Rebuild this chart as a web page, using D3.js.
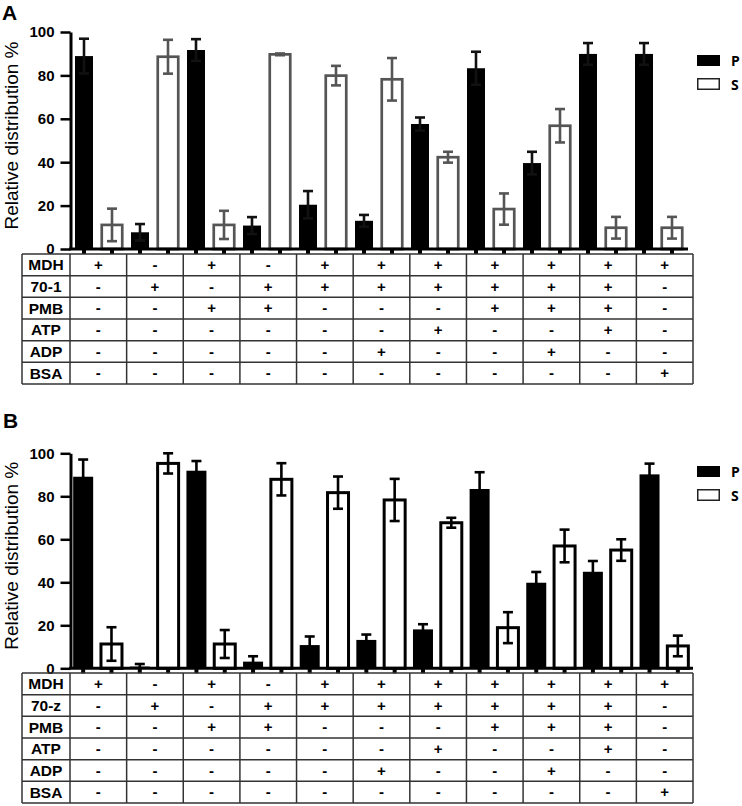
<!DOCTYPE html>
<html>
<head>
<meta charset="utf-8">
<script src="https://cdn.jsdelivr.net/npm/d3@7"></script>
<style>
  html, body { margin: 0; padding: 0; background: #fff; }
  svg { display: block; }
</style>
</head>
<body>
<svg id="chart" width="742" height="806"></svg>
<script>
// ---------------- DATA ----------------
const conditions = ["c1","c2","c3","c4","c5","c6","c7","c8","c9","c10","c11"];
const seriesNames = ["P", "S"];
const yTicks = [0, 20, 40, 60, 80, 100];

const rowLabelsA = ["MDH", "70-1", "PMB", "ATP", "ADP", "BSA"];
const rowLabelsB = ["MDH", "70-z", "PMB", "ATP", "ADP", "BSA"];
const rowMDH = ["+","-","+","-","+","+","+","+","+","+","+"];
const rowChap = ["-","+","-","+","+","+","+","+","+","+","-"];
const rowPMB = ["-","-","+","+","-","-","-","+","+","+","-"];
const rowATP = ["-","-","-","-","-","-","+","-","-","+","-"];
const rowADP = ["-","-","-","-","-","+","-","-","+","-","-"];
const rowBSA = ["-","-","-","-","-","-","-","-","-","-","+"];

// Panel A values (%)
const pA    = [88.9, 7.7, 91.7, 10.8, 20.4, 13.0, 57.6, 83.3, 39.6, 89.9, 89.9];
const pAerr = [8.0, 3.8, 5.0, 3.9, 6.3, 2.7, 3.0, 7.6, 5.2, 5.0, 5.0];
const sA    = [11.1, 88.6, 11.1, 89.7, 79.9, 78.2, 42.3, 18.4, 56.8, 9.8, 9.8];
const sAerr = [7.5, 7.8, 6.5, 0.4, 4.5, 9.8, 2.5, 7.2, 7.7, 5.0, 5.0];

// Panel B values (%)
const pB    = [89.1, 0.8, 91.9, 3.1, 10.8, 13.2, 18.1, 83.4, 39.8, 44.9, 90.2];
const pBerr = [8.0, 1.2, 4.5, 2.5, 4.0, 2.5, 2.4, 7.8, 5.0, 5.0, 5.0];
const sB    = [11.3, 95.3, 11.3, 87.9, 81.7, 78.3, 67.7, 18.9, 56.9, 55.0, 10.4];
const sBerr = [7.8, 4.7, 6.5, 7.5, 7.5, 9.8, 2.3, 7.2, 7.6, 5.0, 4.8];

// ---------------- DRAW ----------------
const svg = d3.select("#chart");
const FONT = "'Liberation Sans', Arial, Helvetica, sans-serif";

function drawPanel(cfg) {
  const g = svg.append("g");
  const keys = [];
  conditions.forEach(c => seriesNames.forEach(s => keys.push(c + "|" + s)));

  const x = d3.scaleBand().domain(keys).range(cfg.xRange).paddingInner(0).paddingOuter(0);
  const y = d3.scaleLinear().domain([0, 100]).range([cfg.y0, cfg.y100]);

  const bars = [];
  conditions.forEach((c, i) => {
    bars.push({ key: c + "|P", s: "P", v: cfg.p[i], e: cfg.pe[i] });
    bars.push({ key: c + "|S", s: "S", v: cfg.s[i], e: cfg.se[i] });
  });

  // panel letter
  g.append("text").attr("x", cfg.letterX).attr("y", cfg.letterY)
    .attr("font-family", FONT).attr("font-weight", "bold").attr("font-size", 21)
    .text(cfg.letter);

  // y axis title
  g.append("text")
    .attr("transform", `translate(18,${(cfg.y0 + cfg.y100) / 2 - 5}) rotate(-90)`)
    .attr("text-anchor", "middle")
    .attr("font-family", FONT).attr("font-size", 19)
    .text("Relative distribution %");

  // bars
  g.selectAll("rect.bar").data(bars).enter().append("rect")
    .attr("class", "bar")
    .attr("x", d => x(d.key) + x.bandwidth() / 2 - (d.s === "P" ? cfg.pW : cfg.sW) / 2)
    .attr("width", d => d.s === "P" ? cfg.pW : cfg.sW)
    .attr("y", d => y(d.v))
    .attr("height", d => y(0) - y(d.v))
    .attr("fill", d => d.s === "P" ? "#000" : "#fff")
    .attr("stroke", d => d.s === "P" ? "none" : cfg.sColor)
    .attr("stroke-width", d => d.s === "P" ? 0 : cfg.sStroke);

  // error bars
  const eg = g.selectAll("g.err").data(bars).enter().append("g").attr("class", "err")
    .attr("stroke", d => d.s === "P" ? cfg.pErrColor : cfg.sColor)
    .attr("stroke-width", 2.6);
  eg.append("line")
    .attr("x1", d => x(d.key) + x.bandwidth() / 2).attr("x2", d => x(d.key) + x.bandwidth() / 2)
    .attr("y1", d => y(Math.max(0, d.v - d.e))).attr("y2", d => y(d.v + d.e));
  eg.append("line")
    .attr("x1", d => x(d.key) + x.bandwidth() / 2 - 5).attr("x2", d => x(d.key) + x.bandwidth() / 2 + 5)
    .attr("y1", d => y(d.v + d.e)).attr("y2", d => y(d.v + d.e));
  eg.filter(d => d.v - d.e > 0).append("line")
    .attr("x1", d => x(d.key) + x.bandwidth() / 2 - 5).attr("x2", d => x(d.key) + x.bandwidth() / 2 + 5)
    .attr("y1", d => y(d.v - d.e)).attr("y2", d => y(d.v - d.e));

  // y axis
  const ya = g.append("g").attr("transform", `translate(${cfg.axisX},0)`)
    .call(d3.axisLeft(y).tickValues(yTicks).tickSize(10).tickSizeOuter(0).tickPadding(6));
  ya.select(".domain").attr("stroke", "#000").attr("stroke-width", 3);
  ya.selectAll(".tick line").attr("stroke", "#000").attr("stroke-width", 2.5);
  ya.selectAll(".tick text").attr("font-family", FONT).attr("font-weight", "bold")
    .attr("font-size", 15).attr("fill", "#000");

  // x axis
  const xa = g.append("g").attr("transform", `translate(0,${cfg.y0})`)
    .call(d3.axisBottom(x).tickSize(5).tickSizeOuter(0).tickFormat(""));
  xa.select(".domain").attr("stroke", "#000").attr("stroke-width", 3)
    .attr("d", `M${cfg.axisX - 1.5},0H${cfg.xAxisEnd}`);
  xa.selectAll(".tick line").attr("stroke", "#000").attr("stroke-width", 4);

  // legend
  const lg = g.append("g");
  lg.append("rect").attr("x", 697).attr("y", cfg.legY).attr("width", 23).attr("height", 11).attr("fill", "#000");
  lg.append("rect").attr("x", 697.75).attr("y", cfg.legY + 23.75).attr("width", 21.5).attr("height", 10.5)
    .attr("fill", "#fff").attr("stroke", "#222").attr("stroke-width", 1.5);
  lg.append("text").attr("x", 731).attr("y", cfg.legY + 11)
    .attr("font-family", "'Open Sans', sans-serif").attr("font-weight", "bold").attr("font-size", 14)
    .text(seriesNames[0]);
  lg.append("text").attr("x", 731).attr("y", cfg.legY + 34.5)
    .attr("font-family", "'Open Sans', sans-serif").attr("font-weight", "bold").attr("font-size", 14)
    .text(seriesNames[1]);

  // table
  const rows = [rowMDH, rowChap, rowPMB, rowATP, rowADP, rowBSA];
  const tx = d3.scaleBand().domain(conditions).range([70, 693]);
  const ty = d3.scaleBand().domain(cfg.rowLabels).range([cfg.tableTop, cfg.tableBottom]);
  const tg = g.append("g");
  const lineC = "#333";
  const hy = cfg.rowLabels.map(r => ty(r)).concat([cfg.tableBottom]);
  tg.selectAll("line.h").data(hy).enter().append("line")
    .attr("x1", 22).attr("x2", 693).attr("y1", d => d).attr("y2", d => d)
    .attr("stroke", lineC).attr("stroke-width", 1.5);
  const vx = [22].concat(conditions.map(c => tx(c))).concat([693]);
  tg.selectAll("line.v").data(vx).enter().append("line")
    .attr("x1", d => d).attr("x2", d => d).attr("y1", cfg.tableTop).attr("y2", cfg.tableBottom)
    .attr("stroke", lineC).attr("stroke-width", 1.5);
  tg.selectAll("text.rl").data(cfg.rowLabels).enter().append("text")
    .attr("x", 46).attr("y", d => ty(d) + ty.bandwidth() / 2 + 5.5)
    .attr("text-anchor", "middle")
    .attr("font-family", FONT).attr("font-weight", "bold").attr("font-size", 15.5)
    .text(d => d);
  rows.forEach((row, ri) => {
    tg.selectAll(null).data(row).enter().append("text")
      .attr("x", (d, i) => tx(conditions[i]) + tx.bandwidth() / 2)
      .attr("y", ty(cfg.rowLabels[ri]) + ty.bandwidth() / 2 + 5)
      .attr("text-anchor", "middle")
      .attr("font-family", FONT).attr("font-weight", "bold").attr("font-size", 15)
      .text(d => d);
  });
}

drawPanel({
  letter: "A", letterX: 2, letterY: 20,
  p: pA, pe: pAerr, s: sA, se: sAerr,
  xRange: [70, 686], axisX: 70.5, xAxisEnd: 688,
  y0: 249, y100: 32,
  pW: 18, sW: 20.5, sStroke: 2.7, sColor: "#555", pErrColor: "#111",
  legY: 55,
  rowLabels: rowLabelsA, tableTop: 254, tableBottom: 384
});

drawPanel({
  letter: "B", letterX: 3, letterY: 428,
  p: pB, pe: pBerr, s: sB, se: sBerr,
  xRange: [69, 692], axisX: 70.5, xAxisEnd: 693,
  y0: 668.3, y100: 453.3,
  pW: 20, sW: 21, sStroke: 3, sColor: "#000", pErrColor: "#000",
  legY: 466,
  rowLabels: rowLabelsB, tableTop: 673, tableBottom: 803
});
</script>
</body>
</html>
